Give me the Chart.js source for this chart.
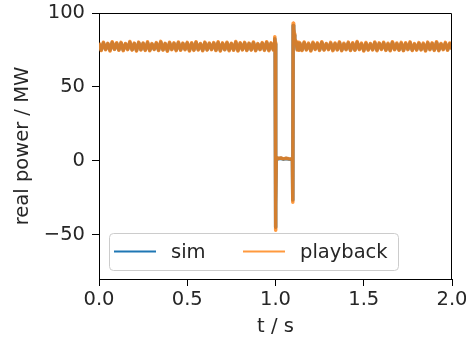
<!DOCTYPE html>
<html>
<head>
<meta charset="utf-8">
<script src="https://cdn.jsdelivr.net/npm/chart.js@4"></script>
<style>
  html, body { margin: 0; padding: 0; background: #fff; }
  #wrap { width: 466px; height: 339px; }
</style>
</head>
<body>
<div id="wrap"><canvas id="powerChart"></canvas></div>
<script>
// sampling step of the recording (s)
const dt = 0.0125;

// steady state before the fault, t = 0 ... 0.9875
const playbackPre = [79.8, 74.6, 80.2, 75.1, 79.5, 74.3, 80.6, 75.4, 79.9, 74.8, 80.1, 74.5, 79.4, 75.2, 80.7, 74.9, 79.6, 74.2, 80.3, 75.0,
  79.7, 74.7, 80.5, 74.4, 79.3, 75.3, 80.0, 74.6, 80.8, 74.9, 79.5, 74.1, 80.2, 75.2, 79.8, 74.5, 80.4, 74.8, 79.6, 75.1,
  80.1, 74.3, 79.9, 74.7, 80.6, 75.0, 79.4, 74.4, 80.3, 74.9, 79.7, 75.2, 80.0, 74.6, 80.5, 74.2, 79.8, 75.1, 80.2, 74.5,
  79.5, 74.8, 80.7, 74.3, 79.9, 75.0, 80.1, 74.6, 79.6, 74.9, 80.4, 74.4, 79.3, 75.2, 80.0, 74.7, 80.6, 74.5, 79.8, 75.0];
const simPre = [79.2, 75.0, 79.7, 75.5, 79.1, 74.9, 80.0, 75.6, 79.4, 75.2, 79.6, 75.0, 79.0, 75.6, 80.1, 75.3, 79.2, 74.8, 79.8, 75.4,
  79.3, 75.1, 79.9, 74.9, 78.9, 75.6, 79.5, 75.0, 80.2, 75.3, 79.1, 74.7, 79.7, 75.5, 79.3, 75.0, 79.8, 75.2, 79.2, 75.5,
  79.6, 74.8, 79.4, 75.1, 80.0, 75.4, 79.0, 74.9, 79.8, 75.3, 79.2, 75.5, 79.5, 75.0, 79.9, 74.8, 79.3, 75.4, 79.7, 75.0,
  79.1, 75.2, 80.1, 74.8, 79.4, 75.4, 79.6, 75.0, 79.2, 75.3, 79.8, 74.9, 78.9, 75.5, 79.5, 75.1, 80.0, 75.0, 79.3, 75.4];

// fault at 1.0 s, cleared at 1.1 s
const tFault = [0.993, 0.996, 0.998, 1.0, 1.002, 1.004, 1.015, 1.03, 1.045, 1.06, 1.075, 1.09, 1.096, 1.098, 1.1, 1.103, 1.106, 1.109, 1.113, 1.118, 1.123, 1.128, 1.133];
const playbackFault = [79.0, 84.0, 80.0, -47.0, -30.0, 2.5, 1.6, 1.9, 1.3, 1.7, 1.4, 1.2, 1.0, -28.0, 93.0, 90.0, 86.0, 82.5, 81.5, 80.5, 75.0, 80.2, 74.8];
const simFault = [78.5, 82.5, 79.0, -45.0, -29.0, 2.2, 1.4, 1.7, 1.1, 1.5, 1.2, 1.0, 0.8, -26.5, 91.5, 89.0, 85.0, 82.0, 81.0, 80.0, 75.4, 79.6, 75.2];

// steady state after clearing, t = 1.1375 ... 2.0
const playbackPost = [79.9, 74.6, 80.4, 75.0, 79.6, 74.3, 80.2, 75.3, 79.8, 74.7, 80.6, 74.9, 79.4, 75.2, 80.1, 74.5, 79.7, 75.0, 80.5, 74.4,
  79.5, 75.1, 80.3, 74.6, 79.9, 74.8, 80.7, 75.2, 79.6, 74.3, 80.0, 74.9, 79.4, 75.0, 80.4, 74.5, 79.8, 75.3, 80.2, 74.7,
  79.5, 74.4, 80.6, 75.1, 79.7, 74.8, 80.1, 74.5, 79.9, 75.2, 80.5, 74.6, 79.3, 74.9, 80.0, 75.0, 79.6, 74.3, 80.3, 75.1,
  79.8, 74.7, 80.6, 74.5, 79.4, 75.2, 80.1, 74.8, 79.7, 75.4];
const simPost = [79.3, 75.0, 79.8, 75.4, 79.0, 74.8, 79.6, 75.7, 79.2, 75.1, 80.0, 75.3, 78.9, 75.6, 79.5, 75.0, 79.1, 75.4, 79.9, 74.9,
  79.0, 75.5, 79.7, 75.0, 79.3, 75.2, 80.1, 75.6, 79.0, 74.8, 79.4, 75.3, 78.9, 75.4, 79.8, 75.0, 79.2, 75.7, 79.6, 75.1,
  79.0, 74.9, 80.0, 75.5, 79.1, 75.2, 79.5, 74.9, 79.3, 75.6, 79.9, 75.0, 78.8, 75.3, 79.4, 75.4, 79.0, 74.8, 79.7, 75.5,
  79.2, 75.1, 80.0, 74.9, 78.9, 75.6, 79.5, 75.2, 79.1, 75.8];

const yTicks = [-50, 0, 50, 100];
const seriesNames = ['sim', 'playback'];

function toPoints(pre, fault, post) {
  const pts = [];
  pre.forEach((v, i) => pts.push({ x: i * dt, y: v }));
  fault.forEach((v, i) => pts.push({ x: tFault[i], y: v }));
  post.forEach((v, i) => pts.push({ x: 1.1375 + i * dt, y: v }));
  return pts;
}

const FONT = 'DejaVu Sans';
const FS = 19.5;
const INK = '#262626';

// top and right spines
const frame = {
  id: 'frame',
  afterDatasetsDraw(chart) {
    const { ctx, chartArea: a } = chart;
    ctx.save();
    ctx.strokeStyle = '#000';
    ctx.lineWidth = 1;
    ctx.beginPath();
    ctx.moveTo(a.left, a.top + 0.5);
    ctx.lineTo(a.right - 0.5, a.top + 0.5);
    ctx.lineTo(a.right - 0.5, a.bottom);
    ctx.stroke();
    ctx.restore();
  }
};

// matplotlib-like legend in the lower left corner of the axes
const boxLegend = {
  id: 'boxLegend',
  afterDraw(chart) {
    const { ctx, chartArea: a } = chart;
    const ds = chart.data.datasets;
    const x0 = a.left + 10, y1 = a.bottom - 9, h = 37, w = 289;
    const y0 = y1 - h;
    ctx.save();
    ctx.beginPath();
    ctx.roundRect(x0 + 0.5, y0 + 0.5, w, h, 4);
    ctx.fillStyle = 'rgba(255,255,255,0.8)';
    ctx.fill();
    ctx.strokeStyle = '#cccccc';
    ctx.lineWidth = 1;
    ctx.stroke();
    ctx.font = FS + 'px "' + FONT + '"';
    ctx.textBaseline = 'middle';
    const cy = y0 + h / 2;
    const cols = [x0 + 5, x0 + 134];
    ds.forEach((d, i) => {
      ctx.strokeStyle = d.borderColor;
      ctx.lineWidth = 2;
      ctx.beginPath();
      ctx.moveTo(cols[i], cy);
      ctx.lineTo(cols[i] + 42, cy);
      ctx.stroke();
      ctx.fillStyle = INK;
      ctx.fillText(d.label, cols[i] + 57, cy + 1);
    });
    ctx.restore();
  }
};

new Chart(document.getElementById('powerChart'), {
  type: 'line',
  data: {
    datasets: [{
      label: seriesNames[0],
      data: toPoints(simPre, simFault, simPost),
      borderColor: '#1f77b4',
      borderWidth: 3.5,
      borderJoinStyle: 'round',
      pointRadius: 0,
      tension: 0,
      order: 2
    }, {
      label: seriesNames[1],
      data: toPoints(playbackPre, playbackFault, playbackPost),
      borderColor: 'rgba(255,127,14,0.8)',
      borderWidth: 3.5,
      borderJoinStyle: 'round',
      pointRadius: 0,
      tension: 0,
      order: 1
    }]
  },
  options: {
    responsive: true,
    maintainAspectRatio: false,
    animation: false,
    layout: { padding: { left: 0, top: 13, right: 14, bottom: 0 } },
    plugins: { legend: { display: false }, tooltip: { enabled: false } },
    scales: {
      x: {
        type: 'linear',
        min: 0,
        max: 2,
        afterFit: s => { s.height = 60; s.paddingLeft = 0; s.paddingRight = 0; },
        ticks: {
          stepSize: 0.5,
          color: INK,
          font: { family: FONT, size: FS },
          padding: 2,
          maxRotation: 0,
          callback: v => v.toFixed(1)
        },
        grid: { drawOnChartArea: false, tickLength: 7, tickColor: '#000' },
        border: { color: '#000', width: 1 },
        title: { display: true, text: 't / s', color: INK, font: { family: FONT, size: FS }, padding: { top: 4, bottom: 0 } }
      },
      y: {
        min: -80,
        max: 100,
        afterFit: s => { s.width = 99; s.paddingTop = 0; s.paddingBottom = 0; },
        afterBuildTicks: s => { s.ticks = yTicks.map(v => ({ value: v })); },
        ticks: {
          color: INK,
          font: { family: FONT, size: FS },
          padding: 7,
          callback: v => v < 0 ? '\u2212' + Math.abs(v) : String(v)
        },
        grid: { drawOnChartArea: false, tickLength: 7, tickColor: '#000' },
        border: { color: '#000', width: 1 },
        title: { display: true, text: 'real power / MW', color: INK, font: { family: FONT, size: FS }, padding: { top: 11, bottom: 0 } }
      }
    }
  },
  plugins: [frame, boxLegend]
});
</script>
</body>
</html>
